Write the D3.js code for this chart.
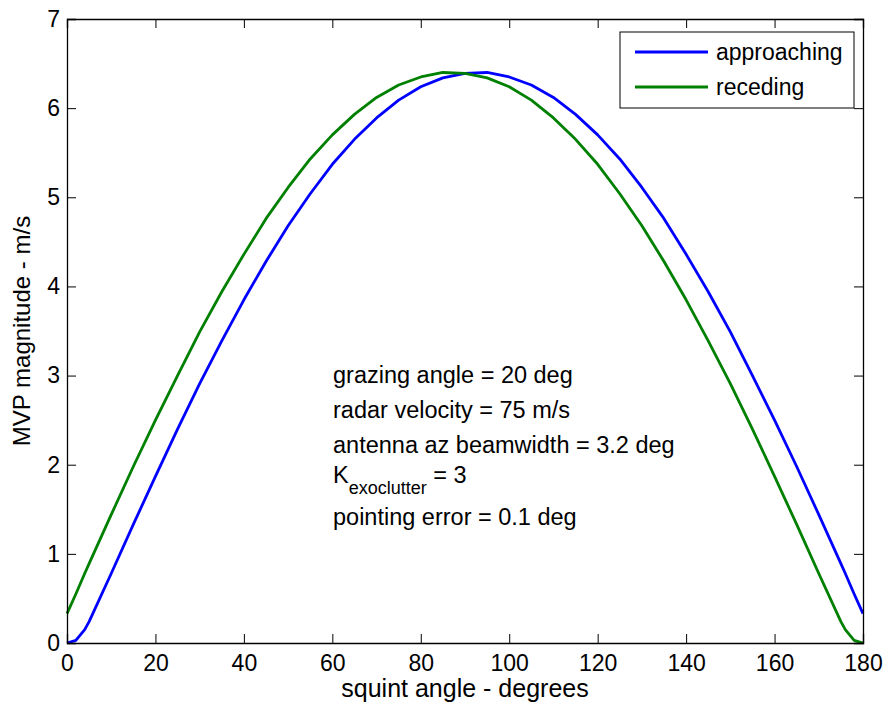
<!DOCTYPE html>
<html>
<head>
<meta charset="utf-8">
<script src="https://cdn.jsdelivr.net/npm/d3@7"></script>
<style>
  html, body { margin: 0; padding: 0; background: #fff; }
  svg { display: block; font-family: "Liberation Sans", Arial, Helvetica, sans-serif; }
</style>
</head>
<body>
<svg id="chart" width="886" height="709"></svg>
<script>
// Minimum detectable velocity vs squint angle
const squintDeg = [0, 2, 4, 5, 10, 15, 20, 25, 30, 35, 40, 45, 50, 55, 60, 65, 70, 75, 80, 85, 90,
                   95, 100, 105, 110, 115, 120, 125, 130, 135, 140, 145, 150, 155, 160, 165, 170, 175, 176, 178, 180];

const approaching = [0.00, 0.03, 0.15, 0.24, 0.78, 1.33, 1.87, 2.40, 2.91, 3.39, 3.85, 4.28, 4.68, 5.04, 5.37, 5.65, 5.89, 6.09, 6.24, 6.34, 6.39,
                     6.40, 6.35, 6.26, 6.12, 5.93, 5.70, 5.43, 5.11, 4.76, 4.36, 3.94, 3.49, 3.00, 2.50, 1.98, 1.44, 0.89, 0.78, 0.55, 0.33];

const receding = [0.33, 0.55, 0.78, 0.89, 1.44, 1.98, 2.50, 3.00, 3.49, 3.94, 4.36, 4.76, 5.11, 5.43, 5.70, 5.93, 6.12, 6.26, 6.35, 6.40, 6.39,
                  6.34, 6.24, 6.09, 5.89, 5.65, 5.37, 5.04, 4.68, 4.28, 3.85, 3.39, 2.91, 2.40, 1.87, 1.33, 0.78, 0.24, 0.15, 0.03, 0.00];

const xTicks = [0, 20, 40, 60, 80, 100, 120, 140, 160, 180];
const yTicks = [0, 1, 2, 3, 4, 5, 6, 7];

const seriesNames = ["approaching", "receding"];
const seriesColors = ["#0000ff", "#008000"];

const notes = [
  "grazing angle = 20 deg",
  "radar velocity = 75 m/s",
  "antenna az beamwidth = 3.2 deg",
  null, // K_exoclutter line, drawn with a subscript
  "pointing error = 0.1 deg"
];

const svg = d3.select("#chart");
const plotLeft = 67, plotRight = 863, plotTop = 19, plotBottom = 643;
const fontSize = 23;
const labelSize = 24;
const noteSize = 23.5;

const x = d3.scaleLinear().domain([0, 180]).range([plotLeft, plotRight]);
const y = d3.scaleLinear().domain([0, 7]).range([plotBottom, plotTop]);

// plot area
svg.append("rect").attr("x", plotLeft).attr("y", plotTop)
  .attr("width", plotRight - plotLeft).attr("height", plotBottom - plotTop)
  .attr("fill", "#fff");

// curves
const line = d3.line().x(d => x(d[0])).y(d => y(d[1]));
[approaching, receding].forEach((vals, i) => {
  svg.append("path")
    .datum(squintDeg.map((s, j) => [s, vals[j]]))
    .attr("d", line)
    .attr("fill", "none")
    .attr("stroke", seriesColors[i])
    .attr("stroke-width", 2.8)
    .attr("stroke-linejoin", "round");
});

// axes: inward ticks on all four sides (boxed)
const tickLen = 9;
const axisBottom = d3.axisBottom(x).tickValues(xTicks).tickSize(-tickLen).tickPadding(12).tickFormat(d3.format("d"));
const axisTop = d3.axisTop(x).tickValues(xTicks).tickSize(-tickLen).tickFormat("");
const axisLeft = d3.axisLeft(y).tickValues(yTicks).tickSize(-tickLen).tickPadding(7).tickFormat(d3.format("d"));
const axisRight = d3.axisRight(y).tickValues(yTicks).tickSize(-tickLen).tickFormat("");

function styleAxis(g) {
  g.selectAll("path.domain").attr("stroke", "#000").attr("stroke-width", 1.3);
  g.selectAll(".tick line").attr("stroke", "#000").attr("stroke-width", 1);
  g.selectAll(".tick text").attr("fill", "#000")
    .style("font-size", fontSize + "px")
    .style("font-family", "'Liberation Sans', Arial, sans-serif");
}

svg.append("g").attr("transform", `translate(0,${plotBottom})`).call(axisBottom).call(styleAxis);
svg.append("g").attr("transform", `translate(0,${plotTop})`).call(axisTop).call(styleAxis);
svg.append("g").attr("transform", `translate(${plotLeft},0)`).call(axisLeft).call(styleAxis);
svg.append("g").attr("transform", `translate(${plotRight},0)`).call(axisRight).call(styleAxis);

// axis titles
svg.append("text")
  .attr("x", (plotLeft + plotRight) / 2).attr("y", 697)
  .attr("text-anchor", "middle")
  .style("font-size", "25px")
  .text("squint angle - degrees");

svg.append("text")
  .attr("transform", `translate(30,${(plotTop + plotBottom) / 2}) rotate(-90)`)
  .attr("text-anchor", "middle")
  .style("font-size", labelSize + "px")
  .text("MVP magnitude - m/s");

// parameter notes
const noteX = 333;
const noteBaselines = [383, 418, 453, 483, 525];
notes.forEach((t, i) => {
  if (t === null) {
    const k = svg.append("text").attr("x", noteX).attr("y", noteBaselines[i])
      .style("font-size", noteSize + "px");
    k.append("tspan").text("K");
    k.append("tspan").attr("dy", 11).style("font-size", "18px").text("exoclutter");
    k.append("tspan").attr("dy", -11).text(" = 3");
  } else {
    svg.append("text").attr("x", noteX).attr("y", noteBaselines[i])
      .style("font-size", noteSize + "px")
      .text(t);
  }
});

// legend
const lg = svg.append("g");
lg.append("rect").attr("x", 620).attr("y", 32).attr("width", 234).attr("height", 76)
  .attr("fill", "#fff").attr("stroke", "#000").attr("stroke-width", 1);
seriesNames.forEach((name, i) => {
  const ly = 52 + i * 35;
  lg.append("line").attr("x1", 635).attr("x2", 708).attr("y1", ly).attr("y2", ly)
    .attr("stroke", seriesColors[i]).attr("stroke-width", 2.8);
  lg.append("text").attr("x", 716).attr("y", ly + 8)
    .style("font-size", fontSize + "px")
    .text(name);
});
</script>
</body>
</html>
